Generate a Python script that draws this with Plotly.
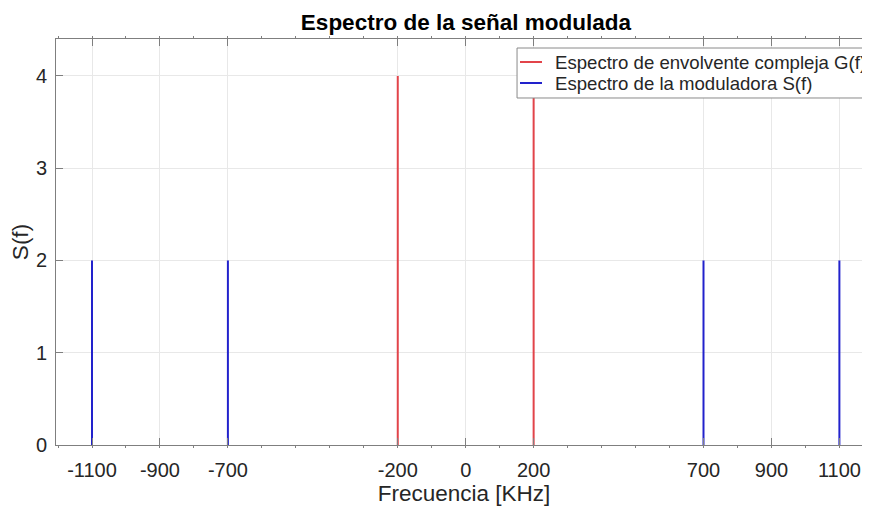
import plotly.graph_objects as go

# Data
freq_G = [-200, 200]
amp_G = [4, 4]
freq_S = [-1100, -700, 700, 1100]
amp_S = [2, 2, 2, 2]
x_ticks = [-1100, -900, -700, -200, 0, 200, 700, 900, 1100]
y_ticks = [0, 1, 2, 3, 4]
name_G = "Espectro de envolvente compleja G(f)"
name_S = "Espectro de la moduladora S(f)"

RED = "#e2444a"
BLUE = "#2222cc"

def stems(xs, ys):
    sx, sy = [], []
    for x, y in zip(xs, ys):
        sx += [x, x, None]
        sy += [0, y, None]
    return sx, sy

gx, gy = stems(freq_G, amp_G)
sx, sy = stems(freq_S, amp_S)

FONT = "Liberation Sans, Arial"

fig = go.Figure()
fig.add_trace(go.Scatter(x=gx, y=gy, mode="lines", line=dict(color=RED, width=2),
                         name=name_G, showlegend=False))
fig.add_trace(go.Scatter(x=sx, y=sy, mode="lines", line=dict(color=BLUE, width=2),
                         name=name_S, showlegend=False))

axis_common = dict(showline=True, linecolor="#7f7f7f", linewidth=1,
                   ticks="inside", tickcolor="#7f7f7f", ticklen=7, automargin=False,
                   gridcolor="#e8e8e8", zeroline=False,
                   tickfont=dict(family=FONT, size=20, color="#262626"))

# page body has an 8px margin; figure sized so the plot lands where the reference has it
fig.update_layout(
    width=864, height=498,
    margin=dict(l=48, r=0, t=31, b=61),
    paper_bgcolor="white", plot_bgcolor="white",
    title=dict(text="<b>Espectro de la señal modulada</b>", x=0.530, xanchor="center",
               y=0.972, yanchor="middle",
               font=dict(family=FONT, size=22.5, color="black")),
    xaxis=dict(range=[-1206, 1196], tickmode="array", tickvals=x_ticks, mirror="ticks",
               ticktext=[str(v) for v in x_ticks], ticklabelstandoff=7,
               title=dict(text="Frecuencia [KHz]", standoff=4,
                          font=dict(family=FONT, size=22.5, color="#262626")),
               minor=dict(tickmode="linear", tick0=0, dtick=100, ticks="outside", ticklen=2,
                          tickcolor="#7f7f7f", showgrid=False),
               **axis_common),
    yaxis=dict(range=[0, 4.4], tickmode="array", tickvals=y_ticks, ticklabelstandoff=4,
               mirror=False,
               title=dict(text="S(f)", standoff=6,
                          font=dict(family=FONT, size=22.5, color="#262626")),
               **axis_common),
    showlegend=False,
)

# Legend box (MATLAB style), drawn in plot-area (paper) coordinates
fig.add_shape(type="rect", xref="paper", yref="paper", x0=0.565, x1=0.9939,
              y0=0.8547, y1=0.9778, fillcolor="white",
              line=dict(color="#8a8a8a", width=1), layer="above")
for yy, col, txt in [(0.9433, RED, name_G), (0.8916, BLUE, name_S)]:
    fig.add_shape(type="line", xref="paper", yref="paper", x0=0.5686, x1=0.5956,
                  y0=yy, y1=yy, line=dict(color=col, width=2), layer="above")
    fig.add_annotation(xref="paper", yref="paper", x=0.6091, y=yy, xanchor="left",
                       yanchor="middle", text=txt, showarrow=False,
                       font=dict(family=FONT, size=18.6, color="#262626"))

fig.write_html("out.html")
